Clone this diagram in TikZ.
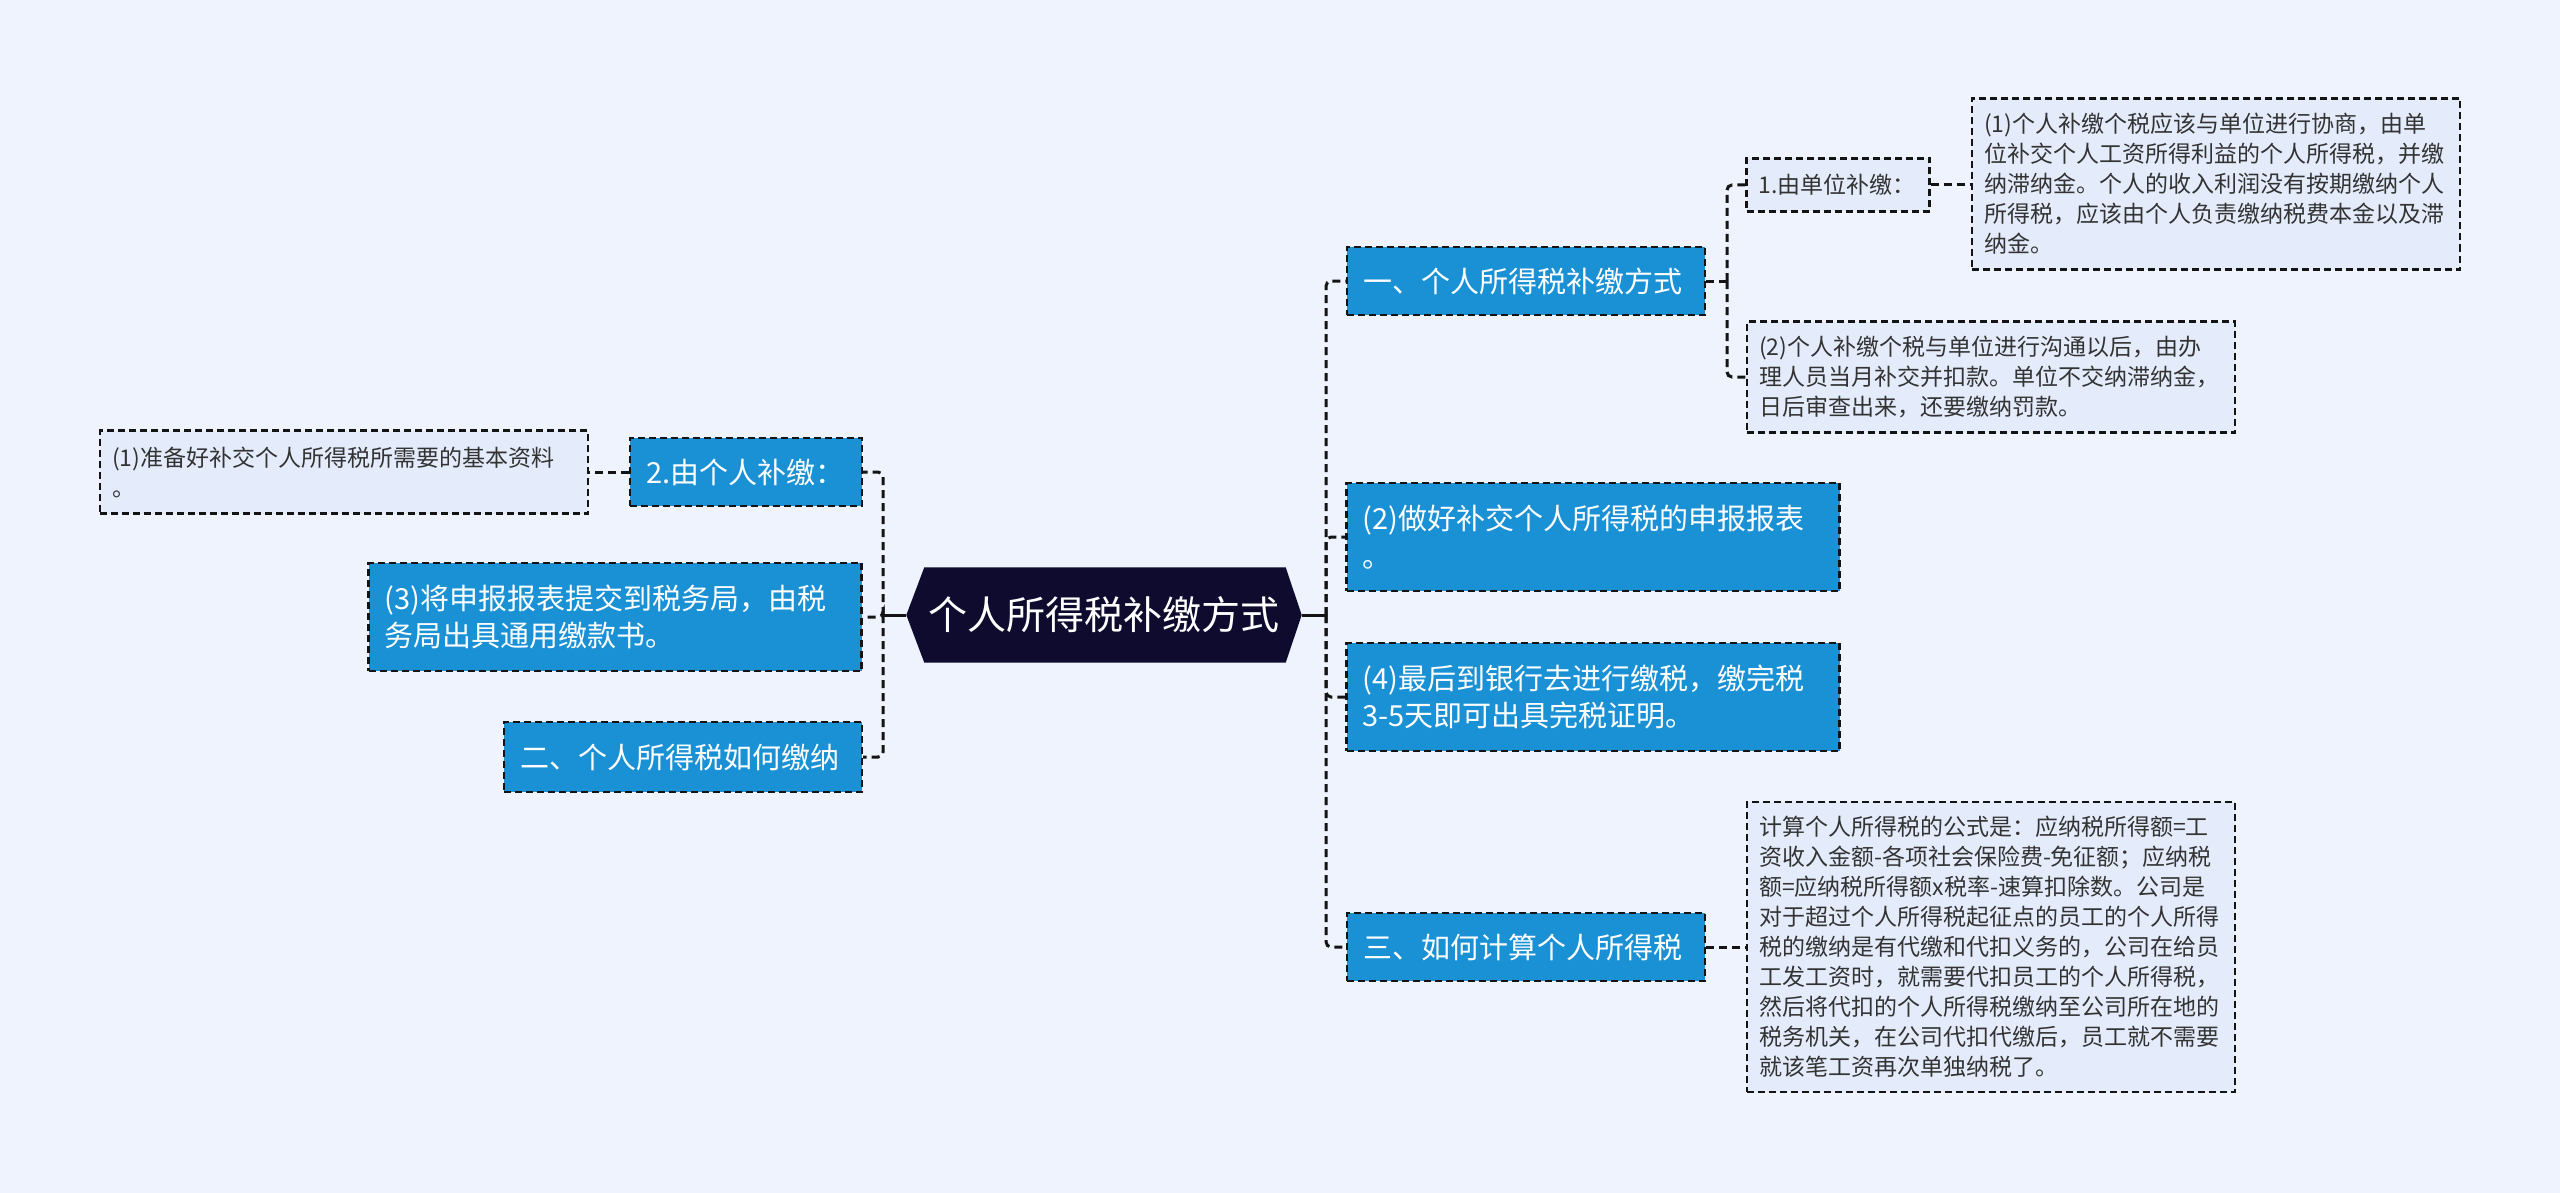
\documentclass[tikz,border=0pt]{standalone}
\usepackage{fontspec}
\setmainfont{Noto Sans CJK SC}
\usetikzlibrary{calc}
\definecolor{bg}{HTML}{EEF3FD}
\definecolor{bluebox}{HTML}{1A91D5}
\definecolor{lightbox}{HTML}{E4ECFB}
\definecolor{navy}{HTML}{0F0B2E}
\definecolor{linec}{HTML}{141414}
\definecolor{textc}{HTML}{333333}
\tikzset{
  dashstyle/.style={dash pattern=on 7pt off 4pt, line width=2.4pt},
  bluenode/.style={draw=linec, dashstyle, fill=bluebox, text=white,
    font=\fontsize{29pt}{37.5pt}\selectfont, align=left, inner xsep=16pt, inner ysep=0pt},
  lightnode/.style={draw=linec, dashstyle, fill=lightbox, text=textc,
    font=\fontsize{23pt}{30pt}\selectfont, align=left, inner xsep=12pt, inner ysep=0pt},
  rootnode/.style={text=white, font=\fontsize{39pt}{45pt}\selectfont, inner sep=0pt,
    minimum width=395pt, minimum height=95pt},
  link/.style={draw=linec, dash pattern=on 8pt off 5pt, line width=3pt, rounded corners=5pt},
  rootlink/.style={draw=linec, line width=3pt},
}
\begin{document}
\begin{tikzpicture}[x=1pt,y=-1pt]
\fill[bg] (0,0) rectangle (2560,1193);
\useasboundingbox (0,0) rectangle (2560,1193);

% root
\node[rootnode] (c) at (1104,615) {};
\fill[navy] (c.west) -- ($(c.north west)+(18,0)$) -- ($(c.north east)+(-16,0)$) -- (c.east)
  -- ($(c.south east)+(-16,0)$) -- ($(c.south west)+(18,0)$) -- cycle;
\node[rootnode] at (c.center) {个人所得税补缴方式};

% connectors (drawn first so boxes sit on top)
\coordinate (cR) at (1326,615);
\coordinate (cL) at (883,615);
\coordinate (s1) at (1727,281);

% right branch
\node[bluenode, text width=326pt, minimum height=68pt] (r1) at (1526,281) {一、个人所得税补缴方式};
\node[bluenode, text width=461pt, minimum height=108pt] (r2) at (1593,537) {(2)做好补交个人所得税的申报报表\\。};
\node[bluenode, text width=461pt, minimum height=108pt] (r3) at (1593,697) {(4)最后到银行去进行缴税，缴完税\\3-5天即可出具完税证明。};
\node[bluenode, text width=326pt, minimum height=68pt] (r4) at (1526,947) {三、如何计算个人所得税};

\node[lightnode, text width=159pt, minimum height=53pt] (r1a) at (1838,185) {1.由单位补缴：};
\node[lightnode, text width=464pt, minimum height=111pt] (r1b) at (1991,377) {(2)个人补缴个税与单位进行沟通以后，由办\\理人员当月补交并扣款。单位不交纳滞纳金，\\日后审查出来，还要缴纳罚款。};
\node[lightnode, text width=464pt, minimum height=171pt] (r1a1) at (2216,184) {(1)个人补缴个税应该与单位进行协商，由单\\位补交个人工资所得利益的个人所得税，并缴\\纳滞纳金。个人的收入利润没有按期缴纳个人\\所得税，应该由个人负责缴纳税费本金以及滞\\纳金。};
\node[lightnode, text width=464pt, minimum height=290pt] (r4c) at (1991,947) {计算个人所得税的公式是：应纳税所得额=工\\资收入金额-各项社会保险费-免征额；应纳税\\额=应纳税所得额x税率-速算扣除数。公司是\\对于超过个人所得税起征点的员工的个人所得\\税的缴纳是有代缴和代扣义务的，公司在给员\\工发工资时，就需要代扣员工的个人所得税，\\然后将代扣的个人所得税缴纳至公司所在地的\\税务机关，在公司代扣代缴后，员工就不需要\\就该笔工资再次单独纳税了。};

% left branch
\node[bluenode, text width=200pt, minimum height=68pt] (l1) at (746,472) {2.由个人补缴：};
\node[bluenode, text width=461pt, minimum height=108pt] (l2) at (615,617) {(3)将申报报表提交到税务局，由税\\务局出具通用缴款书。};
\node[bluenode, text width=326pt, minimum height=70pt] (l3) at (683,757) {二、个人所得税如何缴纳};
\node[lightnode, text width=464pt, minimum height=83pt] (l1a) at (344,472) {(1)准备好补交个人所得税所需要的基本资料\\。};

\draw[rootlink] (c.east) -- (cR);
\draw[rootlink] (c.west) -- (cL);
\draw[link] (cR) |- (r1.west);
\draw[link] (cR) |- (r2.west);
\draw[link] (cR) |- (r3.west);
\draw[link] (cR) |- (r4.west);
\draw[link] (r1.east) -- (s1);
\draw[link] (s1) |- (r1a.west);
\draw[link] (s1) |- (r1b.west);
\draw[link] (r1a.east) -- (r1a1.west |- r1a.east);
\draw[link] (r4.east) -- (r4c.west);
\draw[link] (cL) |- (l1.east);
\draw[link] (cL) |- (l2.east);
\draw[link] (cL) |- (l3.east);
\draw[link] (l1.west) -- (l1a.east);
\end{tikzpicture}
\end{document}
